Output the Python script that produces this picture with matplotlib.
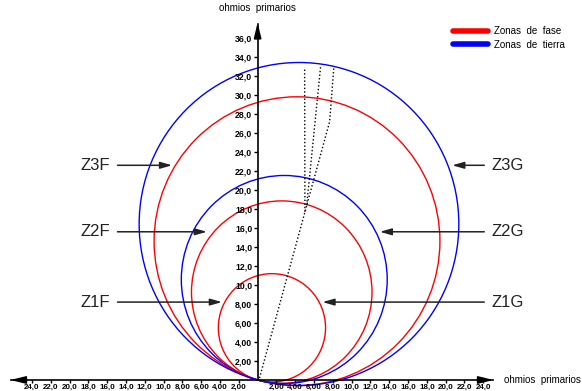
import numpy as np
import matplotlib
matplotlib.use('Agg')
import matplotlib.pyplot as plt
from matplotlib.patches import Circle
from matplotlib.lines import Line2D

# zonas mho: alcance (ohmios primarios) y angulo caracteristico (grados)
zonas = ['Z1F', 'Z2F', 'Z2G', 'Z3F', 'Z3G']
alcance = [11.4, 19.2, 21.9, 30.4, 34.0]
angulo = [74.5, 74.5, 75.0, 74.0, 75.0]
color_zona = ['red', 'red', 'blue', 'red', 'blue']

# lineas punteadas (impedancia de linea y derivaciones)
linea_x = [0.2, 7.66, 8.1]
linea_y = [0.2, 27.2, 32.8]
deriv1_x = [5.03, 5.0]
deriv1_y = [17.7, 32.8]
deriv2_x = [5.22, 6.7]
deriv2_y = [18.4, 33.0]

# etiquetas con flecha: (texto, y, x punta)
etiq_izq = ['Z3F', 'Z2F', 'Z1F']
etiq_der = ['Z3G', 'Z2G', 'Z1G']
etiq_y = [22.6, 15.6, 8.2]
punta_izq = [-8.8, -5.1, -3.5]
punta_der = [20.4, 12.7, 6.6]

ticks_x = [v for v in range(-24, 25, 2) if v != 0]
ticks_y = list(range(2, 37, 2))


def fmt(v):
    v = abs(v)
    s = '%.2f' % v if v < 10 else '%.1f' % v
    return s.replace('.', ',')


fig = plt.figure(figsize=(5.82, 3.91), dpi=100)
ax = fig.add_axes([0, 0, 1, 1])
ax.set_xlim(-27.4, 34.5)
ax.set_ylim(-1.16, 40)

for z, a, c in zip(alcance, angulo, color_zona):
    r = z / 2
    cx = r * np.cos(np.radians(a))
    cy = r * np.sin(np.radians(a))
    ax.add_patch(Circle((cx, cy), r, fill=False, edgecolor=c, lw=1.0))

punteado = dict(color='black', lw=1.0, ls=(0, (1, 1.6)))
ax.plot(linea_x, linea_y, **punteado)
ax.plot(deriv1_x, deriv1_y, **punteado)
ax.plot(deriv2_x, deriv2_y, **punteado)

# ejes centrados en el origen
for s in ['top', 'right']:
    ax.spines[s].set_visible(False)
ax.spines['left'].set_position(('data', 0))
ax.spines['bottom'].set_position(('data', 0))
ax.spines['left'].set_bounds(0, 37.5)
ax.spines['bottom'].set_bounds(-26.2, 25.0)
ax.spines['left'].set_linewidth(1.2)
ax.spines['bottom'].set_linewidth(1.2)

ax.set_xticks(ticks_x)
ax.set_xticklabels([fmt(v) for v in ticks_x],
                   fontdict=dict(family='Liberation Sans', size=5.8, weight='bold'))
ax.set_yticks(ticks_y)
ax.set_yticklabels([fmt(v) for v in ticks_y],
                   fontdict=dict(family='Liberation Sans', size=6.3, weight='bold'))
ax.tick_params(axis='both', direction='out', length=3, width=1.0, pad=0.8)
ax.tick_params(axis='x', pad=0.3, length=2.5)

flecha = dict(arrowstyle='-|>,head_length=0.9,head_width=0.22', color='black', lw=1.2)
ax.annotate('', xy=(0, 37.9), xytext=(0, 36.0), arrowprops=flecha)
ax.annotate('', xy=(-26.6, 0), xytext=(-25.0, 0), arrowprops=flecha)
ax.annotate('', xy=(25.4, 0), xytext=(24.0, 0), arrowprops=flecha)

ax.text(0, 39.2, 'ohmios  primarios', ha='center', va='center', fontsize=7,
        family='Liberation Sans')
ax.text(26.2, 0.05, 'ohmios  primarios', ha='left', va='center', fontsize=7,
        family='Liberation Sans')

flecha_z = dict(arrowstyle='-|>,head_length=0.7,head_width=0.2', color='#222222', lw=1.1)
for t, y, xt in zip(etiq_izq, etiq_y, punta_izq):
    ax.annotate('', xy=(xt, y), xytext=(-15.2, y), arrowprops=flecha_z)
    ax.text(-15.7, y, t, ha='right', va='center', fontsize=12, family='Liberation Sans',
            color='#222222')
for t, y, xt in zip(etiq_der, etiq_y, punta_der):
    ax.annotate('', xy=(xt, y), xytext=(24.4, y), arrowprops=flecha_z)
    ax.text(24.9, y, t, ha='left', va='center', fontsize=12, family='Liberation Sans',
            color='#222222')

handles = [Line2D([], [], color='red', lw=4, solid_capstyle='round'),
           Line2D([], [], color='blue', lw=4, solid_capstyle='round')]
ax.legend(handles, ['Zonas  de  fase', 'Zonas  de  tierra'], loc='upper right',
          bbox_to_anchor=(0.985, 0.955), frameon=False, handlelength=3.6,
          handletextpad=0.6, labelspacing=0.35, prop={'family': 'Liberation Sans', 'size': 7})

fig.savefig('out.png', dpi=100)
